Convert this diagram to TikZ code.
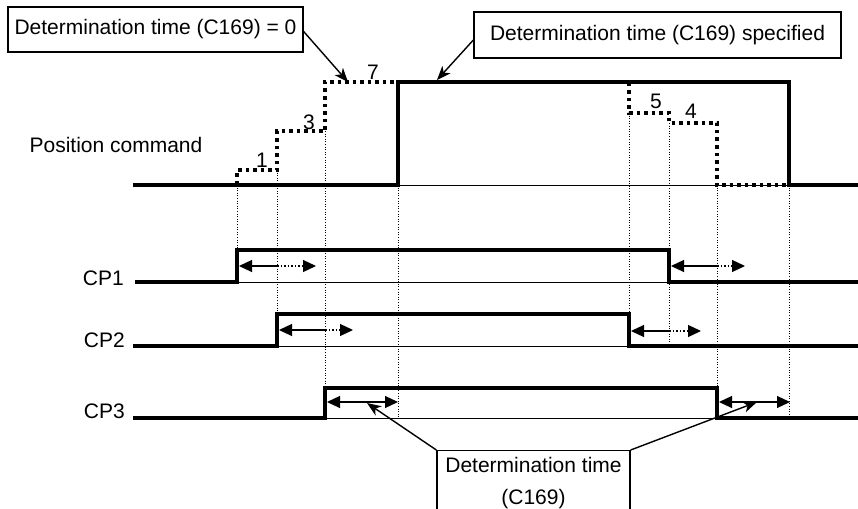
\documentclass[tikz,border=0pt]{standalone}
\usepackage{fontspec}
\setmainfont{Liberation Sans}
\usetikzlibrary{arrows.meta}
\begin{document}
\begin{tikzpicture}[x=1pt,y=-1pt,
  sig/.style={line width=3.2pt,line join=miter},
  thinline/.style={line width=1pt},
  stair/.style={line width=3.4pt,dash pattern=on 3.5pt off 4pt},
  guide/.style={line width=1pt,dash pattern=on 1pt off 1.6pt},
  dimsolid/.style={line width=1.2pt},
  dimdot/.style={line width=1.2pt,dash pattern=on 1.5pt off 2pt},
  tipL/.style={{Triangle[length=13pt,width=12pt]}-},
  tipR/.style={-{Triangle[length=13pt,width=12pt]}},
  tipLR/.style={{Triangle[length=13pt,width=12pt]}-{Triangle[length=13pt,width=12pt]}},
  callout/.style={line width=1.4pt,-{Stealth[length=14pt,width=11pt,inset=4pt]}},
  labelbox/.style={draw,line width=1.3pt,fill=white,inner sep=0pt},
  txt/.style={font=\fontsize{21}{32}\selectfont,inner sep=0pt},
  num/.style={font=\fontsize{21}{24}\selectfont,inner sep=0pt}
]
\useasboundingbox (0,0) rectangle (858,508);
\clip (0,0) rectangle (858,508);

% guide lines
\draw[guide] (237,185) -- (237,250);
\draw[guide] (277,170) -- (277,314);
\draw[guide] (325,131) -- (325,388);
\draw[guide] (398,185) -- (398,418);
\draw[guide] (629,113) -- (629,346);
\draw[guide] (669,123) -- (669,343);
\draw[guide] (717,185) -- (717,418);
\draw[guide] (789,185) -- (789,418);

% position command: dotted staircase
\draw[stair] (133,185) -- (237,185) -- (237,170) -- (277,170) -- (277,131) -- (325,131) -- (325,82)
  -- (629,82) -- (629,113) -- (669,113) -- (669,123) -- (717,123) -- (717,185) -- (789,185);
% position command: solid
\draw[thinline] (398,185) -- (789,185);
\draw[sig] (133,185) -- (398,185) -- (398,82) -- (789,82) -- (789,185) -- (858,185);

% CP1
\draw[thinline] (237,282) -- (669,282);
\draw[sig] (135,282) -- (237,282) -- (237,250) -- (669,250) -- (669,282) -- (858,282);
% CP2
\draw[thinline] (277,346) -- (629,346);
\draw[sig] (133,346) -- (277,346) -- (277,314) -- (629,314) -- (629,346) -- (858,346);
% CP3
\draw[thinline] (325,418) -- (717,418);
\draw[sig] (133,418) -- (325,418) -- (325,388) -- (717,388) -- (717,418) -- (858,418);

% determination-time arrows
\draw[dimsolid,tipL] (239,266) -- (277,266);
\draw[dimdot,tipR] (277,266) -- (316,266);
\draw[dimsolid,tipL] (671,266) -- (717,266);
\draw[dimdot,tipR] (717,266) -- (745,266);
\draw[dimsolid,tipL] (279,330) -- (325,330);
\draw[dimdot,tipR] (325,330) -- (353,330);
\draw[dimsolid,tipL] (631,331) -- (669,331);
\draw[dimdot,tipR] (669,331) -- (701,331);
\draw[dimsolid,tipLR] (327,402) -- (398,402);
\draw[dimsolid,tipLR] (719,402) -- (790,402);

% texts
\node[txt] (pos) at (116,145) {Position command};
\node[txt,anchor=base east] (cp1) at (124,285) {CP1};
\node[txt,anchor=base east] (cp2) at (125,347) {CP2};
\node[txt,anchor=base east] (cp3) at (125,418) {CP3};
\node[num] (n1) at (262,160) {1};
\node[num] (n3) at (309,122) {3};
\node[num] (n7) at (373,72) {7};
\node[num] (n5) at (656,101) {5};
\node[num] (n4) at (691,111) {4};

% callout boxes
\node[labelbox,txt,minimum width=295pt,minimum height=45pt] (b1) at (155.5,29.5) {Determination time (C169) = 0};
\node[labelbox,txt,minimum width=367pt,minimum height=46pt] (b2) at (657.5,35) {Determination time (C169) specified};
\node[labelbox,txt,align=center,minimum width=193pt,minimum height=64pt,anchor=north] (b3) at (533.5,450) {Determination time\\(C169)};

\coordinate (t1) at (348,82);
\coordinate (t2) at (437,80);
\coordinate (t3) at (367,403);
\coordinate (t4) at (757,402);
\draw[callout] ([yshift=-2pt]b1.east) -- (t1);
\draw[callout] ([yshift=-5pt]b2.west) -- (t2);
\draw[callout] (b3.north west) -- (t3);
\draw[callout] (b3.north east) -- (t4);
\end{tikzpicture}
\end{document}
